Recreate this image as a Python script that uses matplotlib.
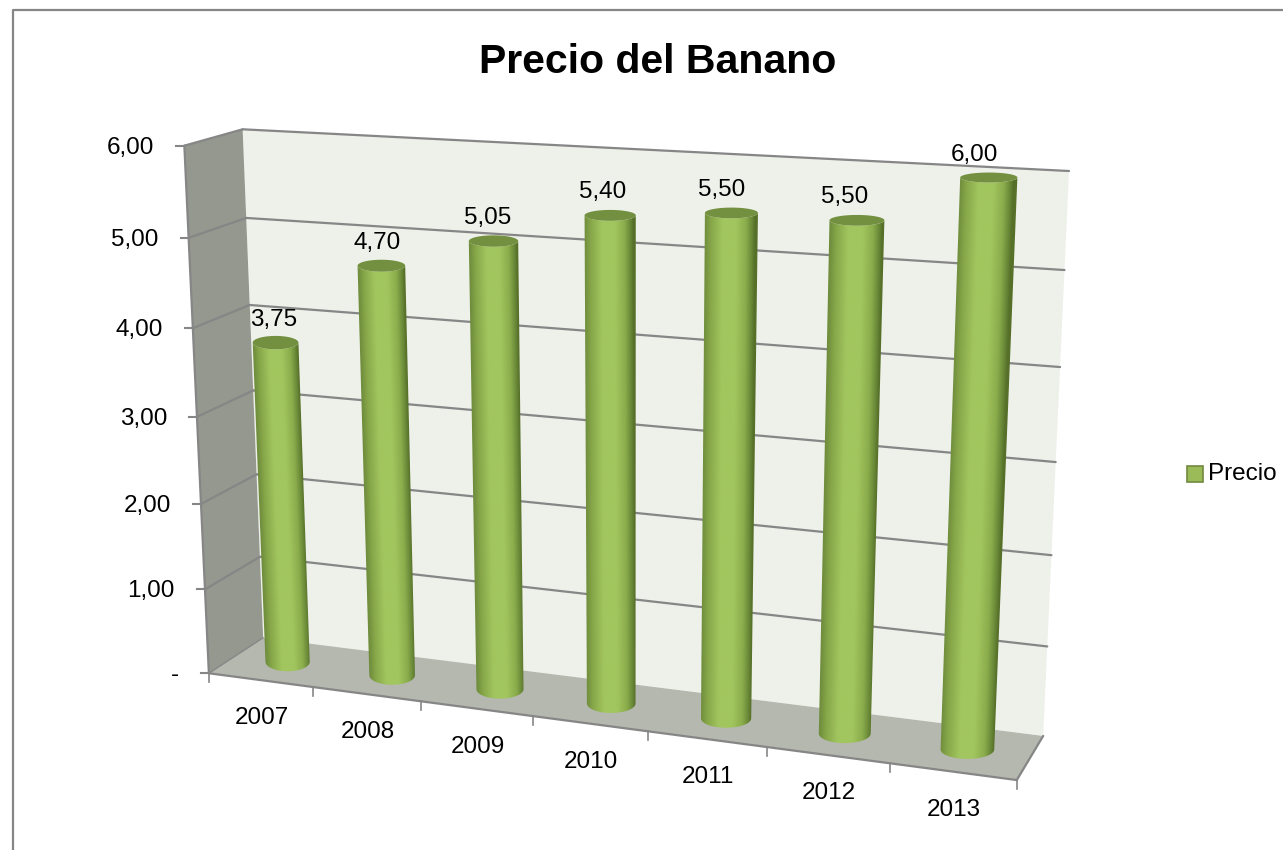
import numpy as np
import matplotlib
matplotlib.use('Agg')
import matplotlib.pyplot as plt
from matplotlib.colors import LinearSegmentedColormap
from matplotlib.patches import Polygon
from matplotlib.transforms import Affine2D

# Datos del grafico
years = ['2007', '2008', '2009', '2010', '2011', '2012', '2013']
prices = [3.75, 4.70, 5.05, 5.40, 5.50, 5.50, 6.00]
price_labels = ['3,75', '4,70', '5,05', '5,40', '5,50', '5,50', '6,00']
y_ticks = [0, 1, 2, 3, 4, 5, 6]
y_tick_labels = ['-', '1,00', '2,00', '3,00', '4,00', '5,00', '6,00']

plt.rcParams['font.family'] = ['Liberation Sans', 'DejaVu Sans']

# Esquinas de la caja 3D: (categoria, valor, profundidad) -> pixel
box_world = np.array([[0, 0, 0], [7, 0, 0], [0, 6, 0], [0, 0, 1],
                      [7, 0, 1], [0, 6, 1], [7, 6, 1]], dtype=float)
box_pixels = np.array([[209, 673], [1017, 780], [184, 146], [263, 638],
                       [1043, 736], [243, 129], [1069, 171]], dtype=float)


# Matriz de camara a partir de las esquinas (DLT)
def fit_camera(world, pixels):
    rows = []
    for (x, y, z), (u, v) in zip(world, pixels):
        rows.append([x, y, z, 1, 0, 0, 0, 0, -u * x, -u * y, -u * z, -u])
        rows.append([0, 0, 0, 0, x, y, z, 1, -v * x, -v * y, -v * z, -v])
    return np.linalg.svd(np.array(rows))[2][-1].reshape(3, 4)


camera = fit_camera(box_world, box_pixels)


def proj(x, y, z):
    x, y, z = np.broadcast_arrays(x, y, z)
    p = camera @ np.array([x, y, z, np.ones_like(x, dtype=float)], dtype=float)
    return p[0] / p[2], p[1] / p[2]


def face(ax, points, color, zorder=1):
    u, v = proj(*np.array(points, dtype=float).T)
    ax.fill(u, v, color=color, lw=0, zorder=zorder)


def edge(ax, a, b, zorder=3, lw=1.6):
    u, v = proj(*np.array([a, b], dtype=float).T)
    ax.plot(u, v, color='#868686', lw=lw, zorder=zorder, solid_capstyle='round')


# Elipse del cilindro, horizontal en pantalla
radius_x = 0.215


def ring(cx, val, angles):
    u0, v0 = proj(cx, val, 0.5)
    ul, _ = proj(cx - radius_x, val, 0.5)
    ur, _ = proj(cx + radius_x, val, 0.5)
    half_h = 9.5 - 0.75 * val
    return u0 + (ur - ul) / 2 * np.cos(angles), v0 - half_h * np.sin(angles)


fig = plt.figure(figsize=(12.83, 8.5), dpi=100)
ax = fig.add_axes([0, 0, 1, 1])

# Marco del grafico
ax.plot([12.5, 12.5, 1283], [850, 9.5, 9.5], color='#868686', lw=1.6)

ax.text(657.5, 62, 'Precio del Banano', fontsize=29.5, fontweight='bold',
        ha='center', va='center', color='black')

# Paredes y suelo
face(ax, [[0, 0, 1], [7, 0, 1], [7, 6, 1], [0, 6, 1]], '#EEF1EA')
face(ax, [[0, 0, 0], [0, 0, 1], [0, 6, 1], [0, 6, 0]], '#95988F')
face(ax, [[0, 0, 0], [7, 0, 0], [7, 0, 1], [0, 0, 1]], '#B5B8AE')

# Lineas de division y marcas del eje Y
for val, lab in zip(y_ticks, y_tick_labels):
    if val > 0:
        edge(ax, [0, val, 1], [7, val, 1])
        edge(ax, [0, val, 0], [0, val, 1])
    u, v = proj(0, val, 0)
    ax.plot([u - 8, u], [v, v], color='#868686', lw=1.5, zorder=3)
    ax.text(u - 30, v + 2, lab, fontsize=17.5, ha='right', va='center')

edge(ax, [0, 0, 0], [0, 6, 0])
edge(ax, [0, 0, 0], [7, 0, 0])
edge(ax, [7, 0, 0], [7, 0, 1])
edge(ax, [0, 0, 0], [0, 0, 1], lw=1)

# Marcas y etiquetas del eje X
for i in range(len(years) + 1):
    u, v = proj(i, 0, 0)
    ax.plot([u, u], [v, v + 9], color='#868686', lw=1.2, zorder=3)
for i, year in enumerate(years):
    u, v = proj(i + 0.5, 0, 0)
    ax.text(u + 1, v + 38, year, fontsize=17.5, ha='center', va='center')

# Cilindros: degradado recortado a la silueta
shade = LinearSegmentedColormap.from_list('cil', [
    (0.0, '#6F8D3D'), (0.12, '#86A648'), (0.36, '#A2C65F'), (0.62, '#A2C65F'),
    (0.82, '#8BAD4C'), (0.94, '#6A8938'), (1.0, '#567029')])
angles = np.linspace(np.pi, 2 * np.pi, 121)
full = np.linspace(0, 2 * np.pi, 120)
ramp = np.linspace(-0.1, 1.1, 300)

for i, val in enumerate(prices):
    cx = i + 0.5
    u0, v0 = ring(cx, 0, angles)
    u1, v1 = ring(cx, val, angles)
    outline = np.column_stack([np.r_[u0, u1[::-1]], np.r_[v0, v1[::-1]]])
    # Unidad del degradado -> base y altura del cilindro
    to_bar = Affine2D.from_values(u0[-1] - u0[0], 0, u1[0] - u0[0], v1[0] - v0[0], u0[0], v0[0])
    im = ax.imshow(np.clip(ramp, 0, 1)[None, :], extent=(-0.1, 1.1, -0.2, 1.2), origin='lower',
                   aspect='auto', cmap=shade, vmin=0, vmax=1, interpolation='bilinear',
                   transform=to_bar + ax.transData, zorder=4)
    im.set_clip_path(Polygon(outline, transform=ax.transData))
    # Tapa superior
    u, v = ring(cx, val, full)
    ax.fill(u, v, color='#72903F', lw=0, zorder=5)
    # Etiqueta de datos
    u, v = proj(cx, val, 0.5)
    ax.text(u - 2 - 2 * i, v - 23, price_labels[i], fontsize=17.5, ha='center', va='center', zorder=6)

# Leyenda
ax.fill([1187, 1203, 1203, 1187], [466, 466, 482, 482], facecolor='#9BBB59', edgecolor='#71893F', lw=1.2)
ax.text(1208, 474, 'Precio', fontsize=17.5, ha='left', va='center')

ax.set_xlim(0, 1283)
ax.set_ylim(850, 0)
ax.axis('off')

fig.savefig('out.png', dpi=100)
